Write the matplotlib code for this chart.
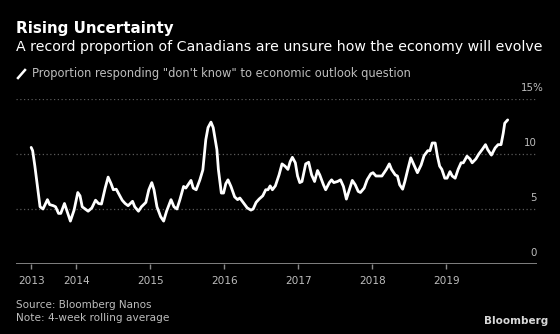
import matplotlib
matplotlib.use("Agg")
import matplotlib.pyplot as plt
from matplotlib.lines import Line2D

# Weekly "don't know" share (decimal years, %)
years = [
    2013.39, 2013.41, 2013.44, 2013.48, 2013.51, 2013.55, 2013.61, 2013.64, 2013.69, 2013.72,
    2013.76, 2013.79, 2013.84, 2013.87, 2013.92, 2013.97, 2014.02, 2014.05, 2014.08, 2014.12,
    2014.16, 2014.21, 2014.26, 2014.30, 2014.34, 2014.39, 2014.43, 2014.47, 2014.50, 2014.54,
    2014.58, 2014.62, 2014.66, 2014.70, 2014.76, 2014.79, 2014.84, 2014.88, 2014.94, 2014.98,
    2015.02, 2015.05, 2015.09, 2015.14, 2015.18, 2015.22, 2015.28, 2015.32, 2015.36, 2015.40,
    2015.45, 2015.48, 2015.51, 2015.55, 2015.58, 2015.62, 2015.67, 2015.71, 2015.75, 2015.78,
    2015.82, 2015.85, 2015.90, 2015.92, 2015.96, 2015.99, 2016.02, 2016.05, 2016.09, 2016.14,
    2016.18, 2016.21, 2016.26, 2016.31, 2016.36, 2016.39, 2016.43, 2016.47, 2016.52, 2016.56,
    2016.59, 2016.62, 2016.65, 2016.69, 2016.74, 2016.78, 2016.82, 2016.86, 2016.89, 2016.92,
    2016.96, 2016.99, 2017.02, 2017.05, 2017.10, 2017.14, 2017.18, 2017.22, 2017.26, 2017.29,
    2017.34, 2017.37, 2017.42, 2017.45, 2017.48, 2017.53, 2017.57, 2017.61, 2017.65, 2017.69,
    2017.73, 2017.77, 2017.81, 2017.84, 2017.89, 2017.93, 2017.98, 2018.01, 2018.05, 2018.13,
    2018.19, 2018.23, 2018.26, 2018.31, 2018.34, 2018.37, 2018.41, 2018.44, 2018.48, 2018.52,
    2018.57, 2018.61, 2018.66, 2018.70, 2018.75, 2018.78, 2018.81, 2018.85, 2018.88, 2018.91,
    2018.94, 2018.98, 2019.01, 2019.05, 2019.08, 2019.12, 2019.16, 2019.20, 2019.23, 2019.28,
    2019.32, 2019.35, 2019.40, 2019.44, 2019.49, 2019.53, 2019.56, 2019.61, 2019.66, 2019.70,
    2019.74, 2019.77, 2019.79, 2019.83,
]
dont_know = [
    10.6, 10.3, 8.9, 6.75, 5.2, 5.0, 5.85, 5.4, 5.3, 5.2,
    4.6, 4.6, 5.5, 4.9, 3.9, 4.9, 6.5, 6.2, 5.2, 5.0,
    4.8, 5.1, 5.8, 5.5, 5.45, 6.9, 7.9, 7.3, 6.75, 6.8,
    6.3, 5.8, 5.5, 5.3, 5.7, 5.2, 4.8, 5.2, 5.6, 6.75,
    7.4, 6.75, 5.2, 4.3, 3.9, 4.8, 5.85, 5.2, 5.0, 5.85,
    7.05, 6.9, 7.2, 7.6, 6.9, 6.75, 7.65, 8.55, 11.3, 12.4,
    12.9, 12.4, 10.4, 8.6, 6.45, 6.45, 7.3, 7.65, 7.05, 6.1,
    5.85, 6.0, 5.55, 5.1, 4.9, 5.0, 5.6, 5.9, 6.2, 6.75,
    6.75, 7.1, 6.75, 7.1, 8.1, 9.1, 8.9, 8.6, 9.3, 9.7,
    9.2, 8.0, 7.4, 7.5, 9.1, 9.25, 8.1, 7.5, 8.5, 8.1,
    7.2, 6.75, 7.4, 7.65, 7.4, 7.5, 7.65, 7.05, 5.9, 6.75,
    7.6, 7.2, 6.6, 6.5, 6.9, 7.65, 8.2, 8.3, 8.0, 8.0,
    8.6, 9.1, 8.6, 8.1, 8.0, 7.2, 6.8, 7.5, 8.6, 9.65,
    8.9, 8.3, 9.0, 9.85, 10.3, 10.3, 11.0, 11.0, 9.8, 8.9,
    8.6, 7.8, 7.8, 8.4, 8.0, 7.8, 8.6, 9.2, 9.2, 9.8,
    9.55, 9.2, 9.55, 10.0, 10.45, 10.85, 10.4, 9.9, 10.55, 10.85,
    10.85, 11.9, 12.8, 13.1,
]

tick_pos = [2013.39, 2014, 2015, 2016, 2017, 2018, 2019]
tick_labels = ["2013", "2014", "2015", "2016", "2017", "2018", "2019"]
y_levels = [0, 5, 10, 15]
y_labels = ["0", "5", "10", "15%"]

BG = "black"
GRID = "#5a5a5a"
TXT = "#bdbdbd"

plt.rcParams["font.family"] = "DejaVu Sans"

fig = plt.figure(figsize=(5.6, 3.34), dpi=100, facecolor=BG)
ax = fig.add_axes([16 / 560, 70 / 334, 521 / 560, 165 / 334], facecolor=BG)

ax.plot(years, dont_know, color="white", lw=2.0,
        solid_joinstyle="round", solid_capstyle="round")

ax.set_xlim(2013.185, 2020.226)
ax.set_ylim(0, 15)

# dotted gridlines + solid baseline
for v in y_levels[1:]:
    ax.axhline(v, color=GRID, lw=0.9, ls=(0, (1, 2)), zorder=0)
ax.axhline(0, color="#8a8a8a", lw=1.3, zorder=1)

# right-side labels sit above their gridlines
for v, lab in zip(y_levels, y_labels):
    dx = 5 if lab.endswith("%") else 0
    ax.annotate(lab, xy=(1.0, v), xycoords=("axes fraction", "data"),
                xytext=(dx, 8), textcoords="offset points",
                ha="right", va="center", color=TXT, fontsize=7.4)

for s in ax.spines.values():
    s.set_visible(False)
ax.set_yticks([])
ax.set_xticks(tick_pos)
ax.set_xticklabels(tick_labels)
ax.tick_params(axis="x", colors="#8a8a8a", length=3.5, width=1, pad=5,
               labelcolor=TXT, labelsize=7.6)

# header
fig.text(16 / 560, 1 - 32.5 / 334, "Rising Uncertainty", color="white",
         fontsize=10.9, fontweight="bold", va="baseline")
fig.text(16 / 560, 1 - 50.7 / 334,
         "A record proportion of Canadians are unsure how the economy will evolve",
         color="white", fontsize=10.2, va="baseline")
fig.add_artist(Line2D([18 / 560, 25 / 560], [1 - 78 / 334, 1 - 70 / 334],
                      color="white", lw=1.8, transform=fig.transFigure))
fig.text(32 / 560, 1 - 74 / 334,
         "Proportion responding \"don't know\" to economic outlook question",
         color=TXT, fontsize=8.3, va="center")

# footer
fig.text(16 / 560, 1 - 304.5 / 334, "Source: Bloomberg Nanos",
         color=TXT, fontsize=7.5, va="center")
fig.text(16 / 560, 1 - 318 / 334, "Note: 4-week rolling average",
         color=TXT, fontsize=7.6, va="center")
fig.text(548 / 560, 1 - 321 / 334, "Bloomberg", color="#d8d8d8",
         fontsize=7.5, fontweight="bold", ha="right", va="center")

fig.savefig("out.png", dpi=100, facecolor=BG)
